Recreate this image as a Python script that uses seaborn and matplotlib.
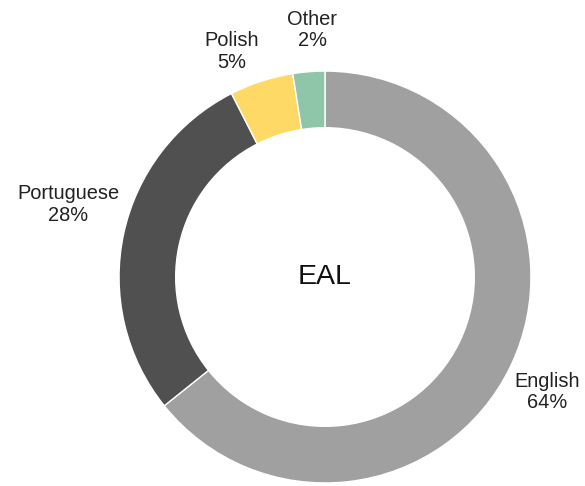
import matplotlib
matplotlib.use("Agg")
import matplotlib.pyplot as plt
import seaborn as sns

languages = ["English", "Portuguese", "Polish", "Other"]
counts = [257, 113, 20, 10]
colors = ["#a0a0a0", "#505050", "#ffd966", "#8fc5a8"]

# label anchors (data units, donut radius = 1)
label_pos = [(1.078, -0.558), (-1.248, 0.352), (-0.454, 1.095), (-0.063, 1.199)]

sns.set_theme(style="white")
plt.rcParams["font.family"] = ["Liberation Sans", "DejaVu Sans"]

fig = plt.figure(figsize=(5.85, 4.86), dpi=100)
ax = fig.add_axes([-0.0077, -0.248, 1.1265, 1.356])

wedges, _ = ax.pie(counts, colors=colors, startangle=90, counterclock=False,
                   radius=1, wedgeprops=dict(width=0.275, edgecolor="white", linewidth=1))

total = sum(counts)
for name, c, (x, y) in zip(languages, counts, label_pos):
    pct = 100 * c / total
    ax.text(x, y, f"{name}\n{pct:.0f}%", ha="center", va="center",
            fontsize=14.4, color="#222222", linespacing=1.15)

ax.text(0, 0, "EAL", ha="center", va="center", fontsize=20.5, color="#111111")

ax.set_xlim(-1.6, 1.6)
ax.set_ylim(-1.6, 1.6)
ax.set_aspect("equal")
ax.axis("off")

plt.savefig("out.png", dpi=100)
plt.close()
